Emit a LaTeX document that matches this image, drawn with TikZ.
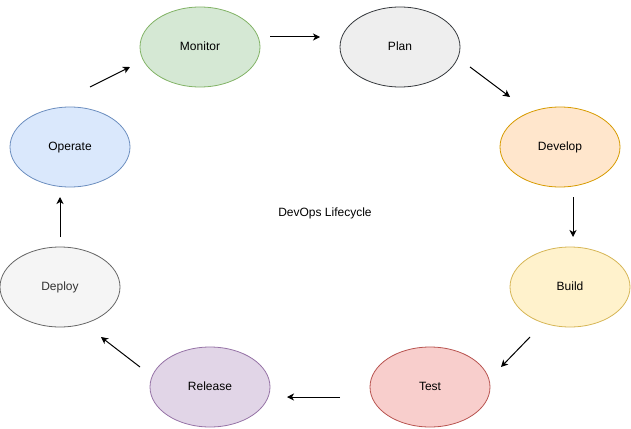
\documentclass[tikz,border=0pt]{standalone}
\usepackage{fontspec}
\setmainfont{Liberation Sans}
\usepackage{tikz}
\usetikzlibrary{arrows.meta,shapes.geometric}

\definecolor{monfill}{HTML}{D5E8D4}\definecolor{mondraw}{HTML}{82B366}
\definecolor{planfill}{HTML}{EEEEEE}\definecolor{plandraw}{HTML}{36393D}
\definecolor{devfill}{HTML}{FFE6CC}\definecolor{devdraw}{HTML}{D79B00}
\definecolor{buildfill}{HTML}{FFF2CC}\definecolor{builddraw}{HTML}{D6B656}
\definecolor{testfill}{HTML}{F8CECC}\definecolor{testdraw}{HTML}{B85450}
\definecolor{relfill}{HTML}{E1D5E7}\definecolor{reldraw}{HTML}{9673A6}
\definecolor{depfill}{HTML}{F5F5F5}\definecolor{depdraw}{HTML}{666666}
\definecolor{deptext}{HTML}{333333}
\definecolor{opfill}{HTML}{DAE8FC}\definecolor{opdraw}{HTML}{6C8EBF}

\tikzset{
	phase/.style={ellipse, draw, line width=0.8pt, minimum width=120pt, minimum height=80pt, inner sep=0pt, text height=9pt, text depth=2pt, font=\fontsize{12}{14}\selectfont},
	flow/.style={-{Stealth[length=7pt,width=7pt,inset=2pt]}, line width=1pt}
}

\begin{document}
\begin{tikzpicture}[x=1pt,y=-1pt]
			\useasboundingbox (0,0) rectangle (631,428);
			
			\node[phase, fill=monfill, draw=mondraw] (monitor) at (200,47) {Monitor};
			\node[phase, fill=planfill, draw=plandraw] (plan) at (400,47) {Plan};
			\node[phase, fill=devfill, draw=devdraw] (develop) at (560,147) {Develop};
			\node[phase, fill=buildfill, draw=builddraw] (build) at (570,287) {Build};
			\node[phase, fill=testfill, draw=testdraw] (test) at (430,387) {Test};
			\node[phase, fill=relfill, draw=reldraw] (release) at (210,387) {Release};
			\node[phase, fill=depfill, draw=depdraw, text=deptext] (deploy) at (60,287) {Deploy};
			\node[phase, fill=opfill, draw=opdraw] (operate) at (70,147) {Operate};
			
			\node[font=\fontsize{12}{14}\selectfont, text height=9pt, text depth=2pt] (title) at (325,213) {DevOps Lifecycle};
			
			% free-standing arrows between the phases
			\coordinate (mp1) at (270,37); \coordinate (mp2) at (320,37);
			\coordinate (pd1) at (470,67); \coordinate (pd2) at (510,97);
			\coordinate (db1) at (573,197); \coordinate (db2) at (573,237);
			\coordinate (bt1) at (530,337); \coordinate (bt2) at (501,367);
			\coordinate (tr1) at (340,397); \coordinate (tr2) at (287,397);
			\coordinate (rd1) at (140,367); \coordinate (rd2) at (101,337);
			\coordinate (do1) at (60,237); \coordinate (do2) at (60,197);
			\coordinate (om1) at (90,87); \coordinate (om2) at (130,67);
			
			\draw [flow] (mp1) -- (mp2);
			\draw [flow] (pd1) -- (pd2);
			\draw [flow] (db1) -- (db2);
			\draw [flow] (bt1) -- (bt2);
			\draw [flow] (tr1) -- (tr2);
			\draw [flow] (rd1) -- (rd2);
			\draw [flow] (do1) -- (do2);
			\draw [flow] (om1) -- (om2);
		\end{tikzpicture}
\end{document}
